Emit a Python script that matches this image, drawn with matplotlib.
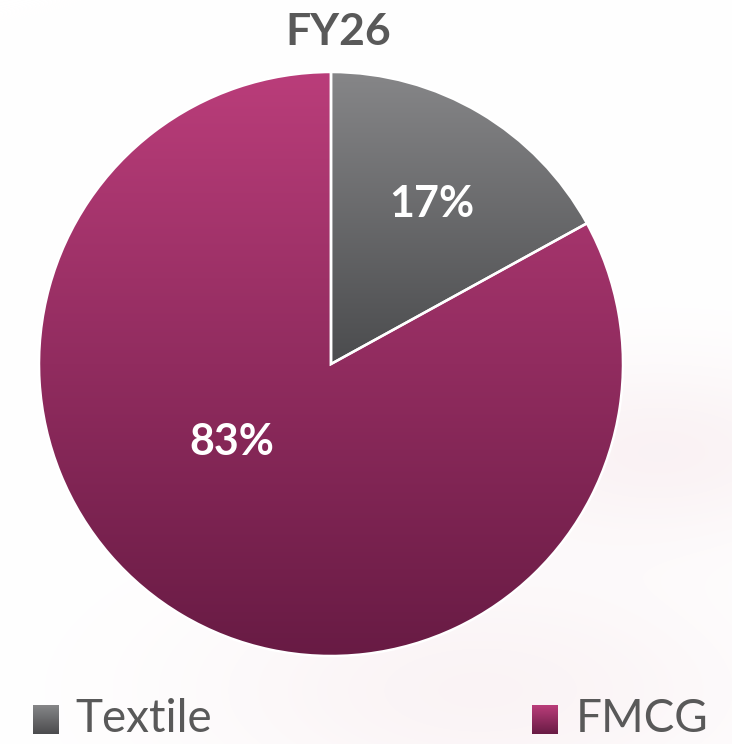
import numpy as np
import matplotlib.pyplot as plt
from matplotlib.colors import LinearSegmentedColormap

title = "FY26"
categories = ["Textile", "FMCG"]
shares = [17, 83]
top_colors = ["#868688", "#BA3D7A"]
bottom_colors = ["#4B4C4E", "#681B44"]

W, H = 732, 744
fig = plt.figure(figsize=(W / 100, H / 100), dpi=100)
fig.patch.set_facecolor("white")

# faint pinkish smudge in the background
bg = fig.add_axes([0, 0, 1, 1])
bg.axis("off")
yy, xx = np.mgrid[0:H, 0:W]
blob = (0.5 * np.exp(-(((xx - 660) / 200) ** 2 + ((yy - 450) / 90) ** 2))
        + 0.45 * np.exp(-(((xx - 480) / 280) ** 2 + ((yy - 690) / 120) ** 2)))
blob = np.clip(blob, 0, 1)[..., None]
pink = np.array([0xF5, 0xE6, 0xEA]) / 255
bg.imshow(np.ones(3) * (1 - blob) + pink * blob, aspect="auto")

# pie
cx, cy, r = 331, 364, 292
ax = fig.add_axes([(cx - r) / W, (H - cy - r) / H, 2 * r / W, 2 * r / H])
wedges, _ = ax.pie(shares, startangle=90, counterclock=False,
                   wedgeprops=dict(edgecolor="white", linewidth=1.8, facecolor="none"))
grad = np.linspace(0, 1, 256)[:, None]
for w, c0, c1 in zip(wedges, top_colors, bottom_colors):
    ext = w.get_path().get_extents()
    cmap = LinearSegmentedColormap.from_list("g", [c0, c1])
    im = ax.imshow(grad, cmap=cmap, extent=[-1.05, 1.05, ext.y0, ext.y1],
                   aspect="auto", origin="upper", zorder=0)
    im.set_clip_path(w)
ax.set_xlim(-1, 1)
ax.set_ylim(-1, 1)
ax.axis("off")

# percentage labels (positions as in the original layout)
label_xy = [(0.346, 0.503), (-0.339, -0.312)]
for s, (lx, ly) in zip(shares, label_xy):
    ax.text(lx, ly, f"{s}%", ha="center", va="baseline", color="white",
            fontsize=31, fontweight="bold", family="Lato")

fig.text(338 / W, 1 - 45 / H, title, ha="center", va="baseline",
         fontsize=32, fontweight="bold", color="#595959", family="Lato")

# legend
leg_pos = [(33, 75), (532, 576)]
for name, c0, c1, (sx, tx) in zip(categories, top_colors, bottom_colors, leg_pos):
    m = fig.add_axes([sx / W, 1 - 734 / H, 26 / W, 29 / H])
    m.imshow(grad, cmap=LinearSegmentedColormap.from_list("g", [c0, c1]), aspect="auto")
    m.axis("off")
    fig.text(tx / W, 1 - 732 / H, name, ha="left", va="baseline",
             fontsize=33, color="#595959", family="Lato")

fig.savefig("out.png", dpi=100, facecolor=fig.get_facecolor())
